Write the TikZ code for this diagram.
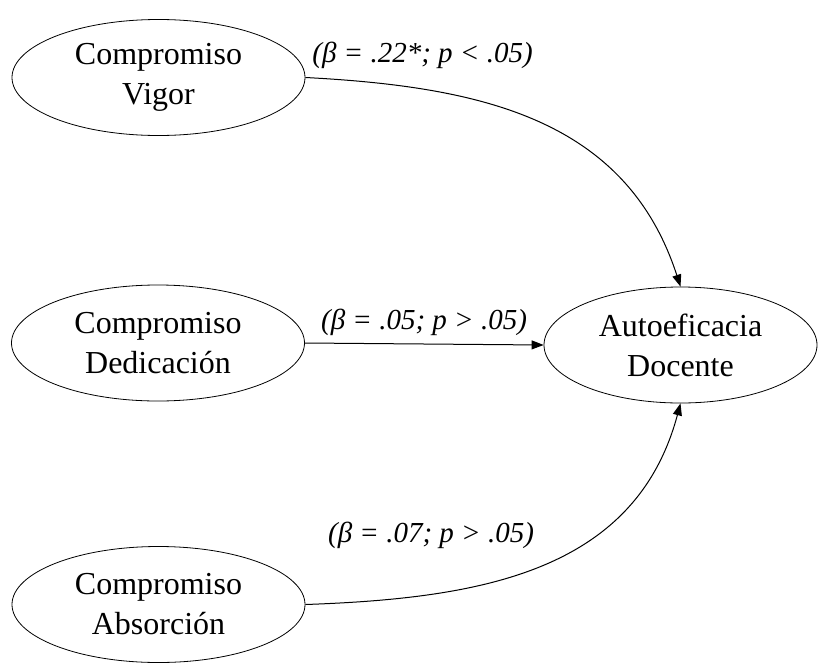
\documentclass[tikz,border=0pt]{standalone}
\usepackage{fontspec}
\setmainfont{Liberation Serif}
\usepackage{tikz}
\usetikzlibrary{arrows.meta,shapes.geometric}

\begin{document}
\begin{tikzpicture}[
  x=0.5pt, y=-0.5pt,
  latent/.style={draw, ellipse, inner sep=0pt, minimum width=146.5pt, minimum height=58pt,
    align=center, font=\fontsize{16}{20}\selectfont},
  coef/.style={font=\fontsize{14.5}{17}\selectfont\itshape},
  arr/.style={-{Triangle[length=6pt,width=4.5pt]}, line width=0.5pt}
]
\useasboundingbox (0,0) rectangle (818,664);
\node[latent] (vigor) at (158.5,77.5) {Compromiso\\Vigor};
\node[latent] (dedic) at (158,343) {Compromiso\\Dedicación};
\node[latent] (absor) at (158.5,604.5) {Compromiso\\Absorción};
\node[latent, minimum width=136.5pt] (auto) at (680.5,345) {Autoeficacia\\Docente};

\node[coef] (b1) at (422.5,55) {(β = .22*; p < .05)};
\node[coef] (b2) at (424,322) {(β = .05; p > .05)};
\node[coef] (b3) at (431,535) {(β = .07; p > .05)};

\draw[arr] (vigor.east) to[out=-3, in=108, looseness=1.05] (auto.north);
\draw[arr] (dedic.east) -- (auto.west);
\draw[arr] (absor.east) to[out=2, in=-105, looseness=1.05] (auto.south);
\end{tikzpicture}
\end{document}
